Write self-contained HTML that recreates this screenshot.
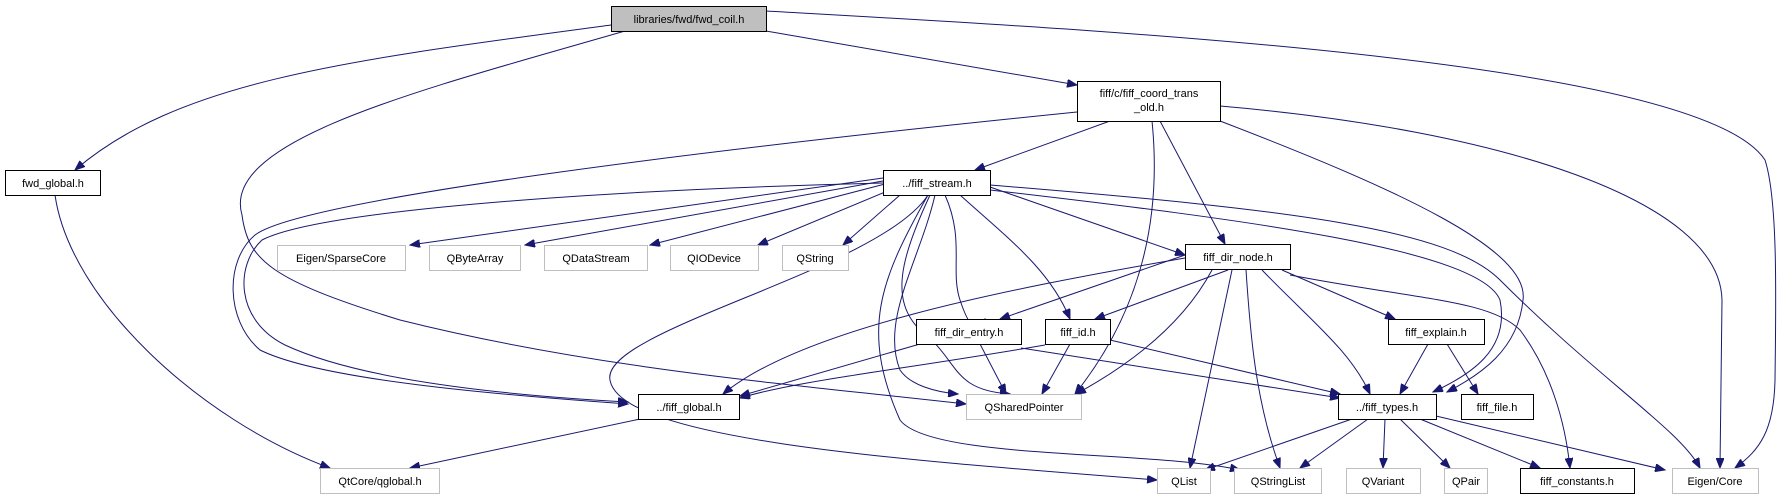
<!DOCTYPE html>
<html><head><meta charset="utf-8"><style>
html,body{margin:0;padding:0;background:#fff;}
svg{display:block;}
text{font-family:"Liberation Sans",sans-serif;font-size:11px;fill:#000;}
.e{fill:none;stroke:#191970;stroke-width:1;marker-end:url(#ah);}
.b{fill:#fff;stroke:#000;stroke-width:1;}
.g{fill:#fff;stroke:#bfbfbf;stroke-width:1;}
</style></head><body>
<svg width="1781" height="500" viewBox="0 0 1781 500" xmlns="http://www.w3.org/2000/svg">
<defs><marker id="ah" markerUnits="userSpaceOnUse" markerWidth="11" markerHeight="8" refX="10" refY="4" orient="auto"><path d="M0,0 L10,4 L0,8 z" fill="#191970" stroke="#191970"/></marker></defs>

<!-- edges -->
<path class="e" d="M611,25 C350,60 180,80 75,170"/>
<path class="e" d="M625,31 C420,90 220,140 242,215 C248,260 270,280 400,320 C600,370 800,385 966,404"/>
<path class="e" d="M766,31 L1077,85"/>
<path class="e" d="M766,11 C1100,30 1700,60 1765,160 C1778,200 1776,300 1775,380 C1774,430 1760,450 1735,468"/>
<path class="e" d="M55,195 C70,300 200,420 330,468"/>
<path class="e" d="M1110,121 L975,170"/>
<path class="e" d="M1077,112 C700,150 300,200 255,235 C225,260 225,320 260,350 C320,380 500,395 628,404"/>
<path class="e" d="M1152,121 C1160,200 1150,300 1075,394"/>
<path class="e" d="M1160,121 L1225,244"/>
<path class="e" d="M1220,121 C1400,190 1530,250 1523,300 C1518,350 1480,375 1447,392"/>
<path class="e" d="M1220,106 C1500,130 1720,200 1722,300 L1720,468"/>

<path class="e" d="M883,178 L410,245"/>
<path class="e" d="M883,181 L525,245"/>
<path class="e" d="M885,184 L650,245"/>
<path class="e" d="M890,190 L758,245"/>
<path class="e" d="M900,195 L843,245"/>
<path class="e" d="M883,183 C600,190 320,210 262,240 C235,265 235,320 285,345 C360,380 500,395 628,402"/>
<path class="e" d="M928,195 C880,270 600,330 610,380 C620,440 900,460 1157,480"/>
<path class="e" d="M928,195 C880,280 860,330 900,420 C930,460 1150,450 1240,470"/>
<path class="e" d="M935,195 C920,260 880,320 900,370 C910,385 935,392 958,394"/>
<path class="e" d="M945,195 C965,240 950,270 960,300 C970,330 975,330 985,319"/>
<path class="e" d="M960,195 C1010,240 1050,270 1070,319"/>
<path class="e" d="M990,187 L1185,255"/>
<path class="e" d="M990,190 C1250,220 1480,250 1500,300 C1510,350 1470,375 1433,392"/>
<path class="e" d="M990,185 C1300,210 1450,230 1500,280 C1600,380 1680,430 1700,468"/>
<path class="e" d="M930,195 C900,260 890,300 920,330 C960,360 950,390 1010,394"/>

<path class="e" d="M1185,255 L1000,319"/>
<path class="e" d="M1228,270 L1095,319"/>
<path class="e" d="M1185,258 C1000,290 800,330 723,394"/>
<path class="e" d="M1212,270 C1180,330 1120,370 1076,394"/>
<path class="e" d="M1232,270 L1190,468"/>
<path class="e" d="M1246,270 C1250,330 1255,400 1280,468"/>
<path class="e" d="M1262,270 C1310,320 1350,350 1370,394"/>
<path class="e" d="M1282,270 L1395,319"/>
<path class="e" d="M1290,275 C1420,300 1490,300 1520,330 C1550,370 1565,420 1570,468"/>

<path class="e" d="M920,344 L740,396"/>
<path class="e" d="M980,344 L1006,394"/>
<path class="e" d="M1021,348 L1340,398"/>
<path class="e" d="M1045,345 C900,370 800,380 740,398"/>
<path class="e" d="M1070,344 L1042,394"/>
<path class="e" d="M1110,340 L1340,394"/>
<path class="e" d="M1428,344 L1400,394"/>
<path class="e" d="M1447,344 L1478,394"/>

<path class="e" d="M640,419 L410,468"/>
<path class="e" d="M1352,419 L1205,470"/>
<path class="e" d="M1368,419 L1300,468"/>
<path class="e" d="M1385,419 L1383,468"/>
<path class="e" d="M1400,419 L1450,468"/>
<path class="e" d="M1420,419 L1540,468"/>
<path class="e" d="M1436,416 L1665,470"/>

<!-- nodes -->
<rect x="611.5" y="6.5" width="155" height="25" fill="#bfbfbf" stroke="#000"/><text x="689" y="23" text-anchor="middle">libraries/fwd/fwd_coil.h</text>
<rect class="b" x="5.5" y="170.5" width="95" height="25"/><text x="53" y="187" text-anchor="middle">fwd_global.h</text>
<rect class="b" x="1077.5" y="81.5" width="143" height="40"/><text x="1149" y="97" text-anchor="middle">fiff/c/fiff_coord_trans</text><text x="1149" y="111" text-anchor="middle">_old.h</text>
<rect class="b" x="883.5" y="170.5" width="107" height="25"/><text x="937" y="187" text-anchor="middle">../fiff_stream.h</text>
<rect class="g" x="277.5" y="245.5" width="128" height="25"/><text x="341" y="262" text-anchor="middle" fill="#000">Eigen/SparseCore</text>
<rect class="g" x="429.5" y="245.5" width="91" height="25"/><text x="475" y="262" text-anchor="middle">QByteArray</text>
<rect class="g" x="544.5" y="245.5" width="103" height="25"/><text x="596" y="262" text-anchor="middle">QDataStream</text>
<rect class="g" x="670.5" y="245.5" width="88" height="25"/><text x="714" y="262" text-anchor="middle">QIODevice</text>
<rect class="g" x="782.5" y="245.5" width="66" height="25"/><text x="815" y="262" text-anchor="middle">QString</text>
<rect class="b" x="1185.5" y="244.5" width="105" height="25"/><text x="1238" y="261" text-anchor="middle">fiff_dir_node.h</text>
<rect class="b" x="916.5" y="319.5" width="105" height="25"/><text x="969" y="336" text-anchor="middle">fiff_dir_entry.h</text>
<rect class="b" x="1045.5" y="319.5" width="65" height="25"/><text x="1078" y="336" text-anchor="middle">fiff_id.h</text>
<rect class="b" x="1388.5" y="319.5" width="96" height="25"/><text x="1436" y="336" text-anchor="middle">fiff_explain.h</text>
<rect class="b" x="638.5" y="394.5" width="101" height="25"/><text x="689" y="411" text-anchor="middle">../fiff_global.h</text>
<rect class="g" x="966.5" y="394.5" width="115" height="25"/><text x="1024" y="411" text-anchor="middle">QSharedPointer</text>
<rect class="b" x="1338.5" y="394.5" width="98" height="25"/><text x="1387" y="411" text-anchor="middle">../fiff_types.h</text>
<rect class="b" x="1461.5" y="394.5" width="72" height="25"/><text x="1497" y="411" text-anchor="middle">fiff_file.h</text>
<rect class="g" x="320.5" y="468.5" width="119" height="25"/><text x="380" y="485" text-anchor="middle">QtCore/qglobal.h</text>
<rect class="g" x="1157.5" y="468.5" width="53" height="25"/><text x="1184" y="485" text-anchor="middle">QList</text>
<rect class="g" x="1234.5" y="468.5" width="87" height="25"/><text x="1278" y="485" text-anchor="middle">QStringList</text>
<rect class="g" x="1346.5" y="468.5" width="74" height="25"/><text x="1383" y="485" text-anchor="middle">QVariant</text>
<rect class="g" x="1444.5" y="468.5" width="43" height="25"/><text x="1466" y="485" text-anchor="middle">QPair</text>
<rect class="b" x="1520.5" y="468.5" width="114" height="25"/><text x="1577" y="485" text-anchor="middle">fiff_constants.h</text>
<rect class="g" x="1672.5" y="468.5" width="86" height="25"/><text x="1715" y="485" text-anchor="middle">Eigen/Core</text>
</svg>
</body></html>
